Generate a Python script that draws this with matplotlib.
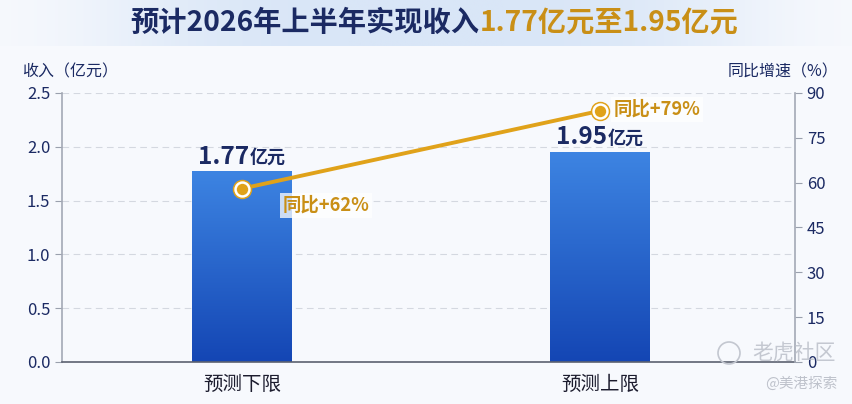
import numpy as np
import matplotlib
matplotlib.use('Agg')
import matplotlib.pyplot as plt
from matplotlib.colors import LinearSegmentedColormap
from matplotlib.patches import Ellipse

plt.rcParams['font.family'] = ['Noto Sans CJK SC', 'DejaVu Sans']

# 数据
categories = ['预测下限', '预测上限']
revenue = [1.77, 1.95]          # 亿元
rev_labels = ['1.77', '1.95']
# 折线点在原图中的位置（右轴读数），标签文字照原图
growth = [58, 84]
growth_labels = ['同比+62%', '同比+79%']
left_ticks = [0.0, 0.5, 1.0, 1.5, 2.0, 2.5]
right_ticks = [0, 15, 30, 45, 60, 75, 90]

bg = '#f7f9fd'
navy = '#1b2a63'
gold = '#e0a21a'
gold_txt = '#c98f16'

fig = plt.figure(figsize=(8.52, 4.04), dpi=100, facecolor=bg)

# 标题背景
band = fig.add_axes([0, 0.885, 1, 0.115])
xs = np.linspace(-1, 1, 400)
g = np.exp(-(xs / 0.75) ** 4)
band_cmap = LinearSegmentedColormap.from_list('band', [bg, '#d9e6f7'])
band.imshow(g[None, :], aspect='auto', cmap=band_cmap, vmin=0, vmax=1, extent=[0, 1, 0, 1])
band.axis('off')

fig.text(0.5625, 0.943, '预计2026年上半年实现收入', ha='right', va='center',
         fontsize=20.3, fontweight='bold', color=navy)
fig.text(0.5625, 0.943, '1.77亿元至1.95亿元', ha='left', va='center',
         fontsize=20.3, fontweight='bold', color=gold_txt)

ax = fig.add_axes([0.0728, 0.104, 0.8602, 0.666])
ax.set_facecolor(bg)
x = np.arange(len(categories))
width = 0.277

bar_cmap = LinearSegmentedColormap.from_list('bar', ['#1446b4', '#3d84e2'])
grad = np.linspace(0, 1, 200)[:, None]
bars = ax.bar(x, revenue, width=width, color='none', zorder=2)
for b in bars:
    ax.imshow(grad, aspect='auto', cmap=bar_cmap, origin='lower',
              extent=[b.get_x(), b.get_x() + b.get_width(), 0, b.get_height()], zorder=2)

ax.set_xlim(-0.503, 1.545)
ax.set_ylim(0, 2.5)
ax.set_yticks(left_ticks)
ax.set_yticklabels([f'{v:.1f}' for v in left_ticks])
ax.set_xticks(x)
ax.set_xticklabels(categories)
ax.tick_params(axis='y', colors='#9aa0ad', labelcolor=navy, labelsize=12, length=5)
ax.tick_params(axis='x', length=0, labelsize=14, labelcolor='#1c1c2e', pad=9)
ax.grid(axis='y', ls=(0, (6, 4)), color='#d4d8e0', lw=0.8, zorder=0)
ax.spines['top'].set_visible(False)
ax.spines['right'].set_visible(False)
ax.spines['left'].set_color('#a4a9b5')
ax.spines['bottom'].set_color('#5c6170')
ax.spines['left'].set_linewidth(1.2)
ax.spines['bottom'].set_linewidth(1.2)

for xi, v, lab in zip(x, revenue, rev_labels):
    ax.annotate(lab, (xi, v), xytext=(5, 2), textcoords='offset points',
                ha='right', va='bottom', fontsize=17.5, fontweight='bold', color=navy, zorder=4)
    ax.annotate('亿元', (xi, v), xytext=(5.5, 3.5), textcoords='offset points',
                ha='left', va='bottom', fontsize=13, fontweight='bold', color=navy, zorder=4)

ax2 = ax.twinx()
ax2.set_ylim(0, 90)
ax2.set_yticks(right_ticks)
ax2.tick_params(axis='y', colors='#9aa0ad', labelcolor=navy, labelsize=12, length=5)
for s in ['top', 'left', 'bottom']:
    ax2.spines[s].set_visible(False)
ax2.spines['right'].set_color('#a4a9b5')
ax2.spines['right'].set_linewidth(1.2)

ax2.plot(x, growth, color=gold, lw=2.8, zorder=3)
ax2.plot(x, growth, 'o', ms=13, color=gold, zorder=4)
ax2.plot(x, growth, 'o', ms=10, mfc=gold, mec='white', mew=1.8, zorder=5)

offsets = [(29, -12), (10, 1)]
for xi, v, lab, off in zip(x, growth, growth_labels, offsets):
    ax2.annotate(lab, (xi, v), xytext=off, textcoords='offset points',
                 ha='left', va='center', fontsize=13.2, fontweight='bold', color=gold_txt,
                 bbox=dict(boxstyle='square,pad=0.15', fc='white', ec='none', alpha=0.75),
                 zorder=6)

fig.text(22 / 852, 1 - 72 / 404, '收入（亿元）', ha='left', va='center', fontsize=11.5,
         color=navy)
fig.text(838 / 852, 1 - 72 / 404, '同比增速（%）', ha='right', va='center', fontsize=11.5,
         color=navy)

# 水印
fig.patches.append(Ellipse((729 / 852, 1 - 353 / 404), 22 / 852, 22 / 404,
                           transform=fig.transFigure, fill=False, ec='#c3c7d0', lw=1.2))
fig.text(836 / 852, 1 - 353 / 404, '老虎社区', ha='right', va='center', fontsize=15,
         color='#b8bcc6', alpha=0.8, style='italic')
fig.text(838 / 852, 1 - 384 / 404, '@美港探索', ha='right', va='center', fontsize=10.5,
         color='#b8bcc6', alpha=0.9)

fig.savefig('out.png', dpi=100, facecolor=bg)
